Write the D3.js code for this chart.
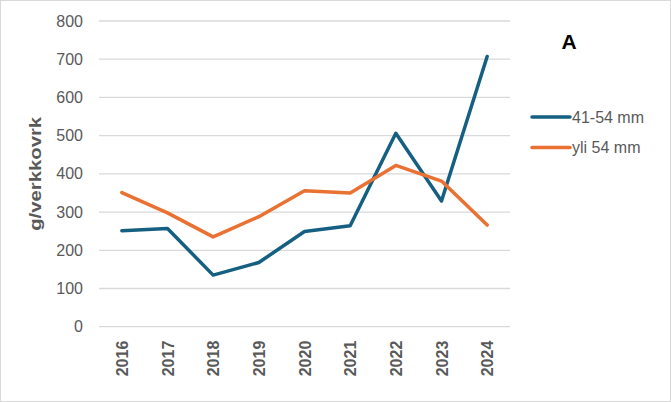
<!DOCTYPE html>
<html>
<head>
<meta charset="utf-8">
<script src="https://cdn.jsdelivr.net/npm/d3@7"></script>
<style>
  body { margin: 0; background: #fff; }
  text { font-family: "Liberation Sans", Arial, sans-serif; }
</style>
</head>
<body>
<div id="chart"></div>
<script>
// chart data
var years = ["2016", "2017", "2018", "2019", "2020", "2021", "2022", "2023", "2024"];
var small = [251, 257, 135, 168, 249, 264, 506, 329, 707];   // 41-54 mm
var large = [351, 298, 235, 288, 356, 350, 422, 381, 266];   // yli 54 mm
var yTicks = [0, 100, 200, 300, 400, 500, 600, 700, 800];
var seriesNames = ["41-54 mm", "yli 54 mm"];
var seriesColors = ["#156082", "#E97132"];

var width = 671, height = 402;
var margin = {top: 21, right: 161, bottom: 75.3, left: 99};
var plotW = width - margin.left - margin.right,
    plotH = height - margin.top - margin.bottom;

var svg = d3.select("#chart").append("svg")
    .attr("width", width)
    .attr("height", height);

// chart border
svg.append("rect")
    .attr("x", 0.5).attr("y", 0.5)
    .attr("width", width - 1).attr("height", height - 1)
    .attr("fill", "#fff")
    .attr("stroke", "#d9d9d9");

var g = svg.append("g")
    .attr("transform", "translate(" + margin.left + "," + margin.top + ")");

var x = d3.scalePoint()
    .domain(years)
    .range([0, plotW])
    .padding(0.5);

var y = d3.scaleLinear()
    .domain([0, 800])
    .range([plotH, 0]);

// gridlines
g.selectAll("line.grid")
    .data(yTicks)
    .enter().append("line")
    .attr("class", "grid")
    .attr("x1", 0).attr("x2", plotW)
    .attr("y1", function(d) { return y(d); })
    .attr("y2", function(d) { return y(d); })
    .attr("stroke", "#d9d9d9")
    .attr("stroke-width", 1.3);

// y axis labels
var yAxis = g.append("g")
    .call(d3.axisLeft(y).tickValues(yTicks).tickSize(0).tickPadding(16));
yAxis.select(".domain").remove();
yAxis.selectAll("text")
    .attr("fill", "#595959")
    .style("font-size", "16px");

// x axis labels, rotated
var xAxis = g.append("g")
    .attr("transform", "translate(0," + plotH + ")")
    .call(d3.axisBottom(x).tickSize(0));
xAxis.select(".domain").remove();
xAxis.selectAll("text")
    .attr("transform", "rotate(-90)")
    .attr("x", -14)
    .attr("y", 0)
    .attr("dy", "0.36em")
    .style("text-anchor", "end")
    .style("font-size", "16px")
    .style("font-weight", "bold")
    .attr("fill", "#595959");

// axis title
svg.append("text")
    .attr("transform", "translate(41," + (margin.top + plotH / 2) + ") rotate(-90)")
    .style("text-anchor", "middle")
    .style("font-size", "17px")
    .style("font-weight", "bold")
    .attr("textLength", 114)
    .attr("lengthAdjust", "spacingAndGlyphs")
    .attr("fill", "#595959")
    .text("g/verkkovrk");

// lines
var line = d3.line()
    .x(function(d, i) { return x(years[i]); })
    .y(function(d) { return y(d); });

[small, large].forEach(function(series, i) {
    g.append("path")
        .datum(series)
        .attr("fill", "none")
        .attr("stroke", seriesColors[i])
        .attr("stroke-width", 3.5)
        .attr("stroke-linejoin", "round")
        .attr("stroke-linecap", "round")
        .attr("d", line);
});

// panel letter
svg.append("text")
    .attr("x", 569)
    .attr("y", 49)
    .style("text-anchor", "middle")
    .style("font-size", "21px")
    .style("font-weight", "bold")
    .attr("fill", "#000")
    .text("A");

// legend
var legend = svg.append("g")
    .attr("transform", "translate(532,117)");

var item = legend.selectAll("g")
    .data(seriesNames)
    .enter().append("g")
    .attr("transform", function(d, i) { return "translate(0," + i * 30.5 + ")"; });

item.append("line")
    .attr("x1", 0).attr("x2", 38)
    .attr("stroke", function(d, i) { return seriesColors[i]; })
    .attr("stroke-width", 3.5)
    .attr("stroke-linecap", "round");

item.append("text")
    .attr("x", 40)
    .attr("dy", "0.35em")
    .style("font-size", "16px")
    .attr("fill", "#595959")
    .text(function(d) { return d; });
</script>
</body>
</html>
